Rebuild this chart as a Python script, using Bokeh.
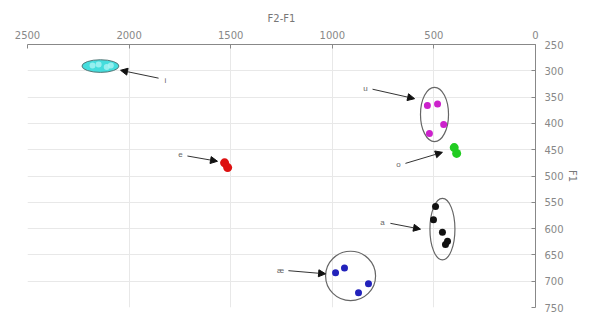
from bokeh.plotting import figure
from bokeh.models import Range1d, LinearAxis, FixedTicker, Arrow, NormalHead, Label
from bokeh.embed import file_html
from bokeh.resources import INLINE

# Vowel token data (F2 in Hz, F1 in Hz)
i_f2 = [2180, 2150, 2110, 2090]
i_f1 = [290, 288, 293, 290]
u_f2 = [532, 482, 452, 522]
u_f1 = [366, 363, 402, 419]
o_f2 = [400, 388]
o_f1 = [446, 457]
e_f2 = [1530, 1515]
e_f1 = [475, 484]
a_f2 = [492, 502, 458, 433, 443]
a_f1 = [558, 583, 607, 624, 630]
ae_f2 = [984, 940, 822, 871]
ae_f1 = [684, 675, 705, 722]

# Ellipses: center F2, center F1, width (Hz), height (Hz)
ell_names = ["i", "u", "a", "ae"]
ell_cx = [2141, 497, 458, 910]
ell_cy = [291, 383, 601, 690]
ell_w = [182, 138, 123, 246]
ell_h = [24, 103, 117, 94]

# Labels and arrows
lab_text = ["i", "u", "o", "e", "a", "æ"]
lab_x = [1821, 837, 674, 1747, 753, 1255]
lab_y = [318, 333, 479, 459, 588, 680]
arr_x0 = [1855, 802, 640, 1713, 714, 1216]
arr_y0 = [314, 335, 476, 462, 590, 680]
arr_x1 = [2042, 595, 458, 1565, 566, 1033]
arr_y1 = [299, 353, 455, 472, 601, 686]

x_ticks = [0, 500, 1000, 1500, 2000, 2500]
y_ticks = [250, 300, 350, 400, 450, 500, 550, 600, 650, 700, 750]

p = figure(frame_width=508, frame_height=263, output_backend="svg", toolbar_location=None,
           x_range=Range1d(2500, 0), y_range=Range1d(750, 250),
           x_axis_location=None, y_axis_location=None,
           min_border_left=27, min_border_right=40, min_border_top=44, min_border_bottom=6)
p.outline_line_color = None
p.background_fill_color = "white"

top = LinearAxis(axis_label="F2-F1", ticker=FixedTicker(ticks=x_ticks))
right = LinearAxis(axis_label="F1", ticker=FixedTicker(ticks=y_ticks))
for ax in (top, right):
    ax.axis_line_color = "#888888"
    ax.major_tick_line_color = "#888888"
    ax.major_tick_in = 4
    ax.major_tick_out = 0
    ax.minor_tick_line_color = None
    ax.major_label_text_font = "DejaVu Sans"
    ax.major_label_text_font_size = "10px"
    ax.major_label_text_color = "#888888"
    ax.axis_label_text_font = "DejaVu Sans"
    ax.axis_label_text_font_size = "10px"
    ax.axis_label_text_color = "#777777"
    ax.axis_label_text_font_style = "normal"
top.major_label_standoff = 6
right.major_label_standoff = 9
top.axis_label_standoff = 4
right.axis_label_standoff = 0
p.add_layout(top, "above")
p.add_layout(right, "right")

p.xgrid.ticker = FixedTicker(ticks=x_ticks)
p.ygrid.ticker = FixedTicker(ticks=y_ticks)
p.grid.grid_line_color = "#e8e8e8"

# Ellipses
p.ellipse(x=ell_cx[0], y=ell_cy[0], width=ell_w[0], height=ell_h[0],
          fill_color="#44dddd", line_color="#557777", line_width=1)
p.ellipse(x=ell_cx[1:], y=ell_cy[1:], width=ell_w[1:], height=ell_h[1:],
          fill_color=None, line_color="#666666", line_width=1.2)

# Points
p.scatter(i_f2, i_f1, size=6, color="#aaf4f4", line_color=None, alpha=0.8)
p.scatter(u_f2, u_f1, size=7, color="#cc22cc", line_color=None)
p.scatter(o_f2, o_f1, size=9, color="#22cc22", line_color=None)
p.scatter(e_f2, e_f1, size=9, color="#dd1111", line_color=None)
p.scatter(a_f2, a_f1, size=7, color="#111111", line_color=None)
p.scatter(ae_f2, ae_f1, size=7, color="#2222bb", line_color=None)

# Arrows and labels
for k in range(len(lab_text)):
    p.add_layout(Arrow(end=NormalHead(size=7, fill_color="#111111", line_color="#111111"),
                       x_start=arr_x0[k], y_start=arr_y0[k], x_end=arr_x1[k], y_end=arr_y1[k],
                       line_color="#333333", line_width=1))
    p.add_layout(Label(x=lab_x[k], y=lab_y[k], text=lab_text[k], text_font_size="8px",
                       text_color="#666666", text_align="center", text_baseline="middle"))

open("out.html", "w").write(file_html(p, INLINE))
